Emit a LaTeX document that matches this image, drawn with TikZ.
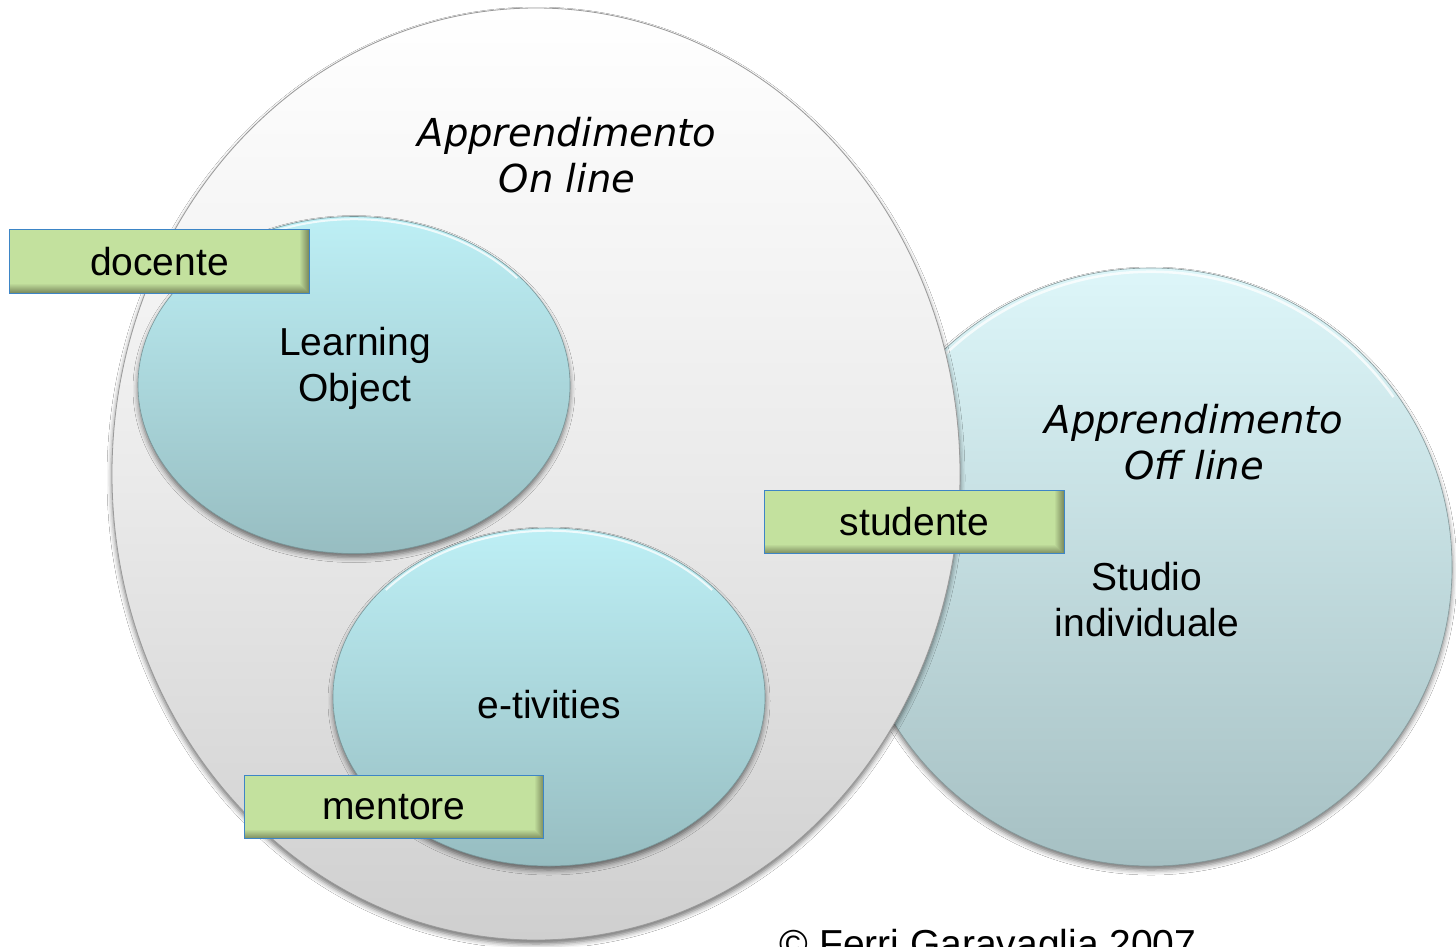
\documentclass[tikz,border=0pt]{standalone}
\usepackage{fontspec}
\setmainfont{Liberation Sans}
\newfontfamily\verd{DejaVu Sans}
\usetikzlibrary{shapes.geometric,shadows.blur}
\definecolor{bigbot}{HTML}{CFCFCF}
\definecolor{bigline}{HTML}{9A9A9A}
\definecolor{tealtop}{HTML}{BDEFF5}
\definecolor{tealbot}{HTML}{97BDC1}
\definecolor{offtop}{HTML}{DDF6F9}
\definecolor{offbot}{HTML}{A6C0C3}
\definecolor{boxgreen}{HTML}{C3E19E}
\definecolor{boxdark}{HTML}{66704A}
\definecolor{boxblue}{HTML}{3D85C6}
\tikzset{
  x=1pt, y=-1pt,
  shad/.style={blur shadow={shadow xshift=0pt, shadow yshift=-4pt, shadow blur radius=5pt, shadow opacity=55}},
  bigcirc/.style={ellipse, inner sep=0pt, top color=white, bottom color=bigbot, middle color=white!92!black, draw=bigline, line width=0.8pt, shad},
  tealell/.style={ellipse, inner sep=0pt, top color=tealtop, bottom color=tealbot, draw=tealbot!80!black, line width=0.6pt, shad},
  offcirc/.style={ellipse, inner sep=0pt, top color=offtop, bottom color=offbot, draw=offbot!80!black, line width=0.6pt, shad},
  rim/.style={white, line width=2pt, opacity=0.75},
  lbl/.style={font=\fontsize{39}{46}\selectfont, align=center, inner sep=0pt, text=black},
  ilbl/.style={font=\verd\itshape\fontsize{38.5}{46}\selectfont, align=center, inner sep=0pt, text=black},
  rolebox/.style={rectangle, inner sep=0pt, minimum width=299pt, minimum height=63pt, fill=boxgreen},
}
\begin{document}
\begin{tikzpicture}
\useasboundingbox (0,0) rectangle (1456,946);
\clip (0,0) rectangle (1456,946);
\fill[white] (0,0) rectangle (1456,946);

% Off line circle
\node[offcirc, minimum width=602pt, minimum height=598pt] (off) at (1151,567) {};
\draw[rim, line width=2.5pt] ([yshift=-4pt]off.north) arc[start angle=270, end angle=215, x radius=296, y radius=294];
\draw[rim, line width=2.5pt] ([yshift=-4pt]off.north) arc[start angle=270, end angle=325, x radius=296, y radius=294];
% On line big ellipse
\node[bigcirc, minimum width=848pt, minimum height=932pt] (on) at (536,474) {};
% inner ellipses
\node[tealell, minimum width=432pt, minimum height=337pt] (lo) at (354,385) {};
\node[tealell, minimum width=432pt, minimum height=338pt] (et) at (549,697) {};

% highlight rims
\draw[rim] ([yshift=-3pt]lo.north) arc[start angle=270, end angle=220, x radius=213, y radius=165];
\draw[rim] ([yshift=-3pt]lo.north) arc[start angle=270, end angle=320, x radius=213, y radius=165];
\draw[rim] ([yshift=-3pt]et.north) arc[start angle=270, end angle=220, x radius=213, y radius=166];
\draw[rim] ([yshift=-3pt]et.north) arc[start angle=270, end angle=320, x radius=213, y radius=166];

% labels
\node[ilbl] (ontxt) at (567,155) {Apprendimento\\On line};
\node[ilbl] (offtxt) at (1194,442) {Apprendimento\\Off line};
\node[lbl] (lotxt) at (355,368) {Learning\\Object};
\node[lbl] (ettxt) at (549,705) {e-tivities};
\node[lbl] (sttxt) at (1147,600) {Studio\\individuale};

% role boxes
\foreach \n/\cx/\cy/\t in {doc/159.5/261.5/docente, stu/914.5/522/studente, men/394/807/mentore}{
  \node[rolebox] (\n) at (\cx,\cy) {};
  \foreach \k [evaluate=\k as \p using {int(28+8*\k)}] in {0,...,8}{
    \fill[boxgreen!\p!boxdark] ([xshift=-\k pt-1pt]\n.north east) rectangle ([xshift=-\k pt]\n.south east);
  }
  \foreach \k [evaluate=\k as \p using {int(28+8*\k)}] in {0,...,8}{
    \fill[boxgreen!\p!boxdark] ([yshift=\k pt]\n.south west) rectangle ([yshift=\k pt+1pt,xshift=-\k pt]\n.south east);
  }
  \draw[boxblue, line width=1.3pt] (\n.north west) rectangle (\n.south east);
  \node[lbl] (\n txt) at (\n.center) {\t};
}

% copyright (cut off at the lower edge, as in the reference)
\node[lbl, anchor=base] (copy) at (988,957) {© Ferri Garavaglia 2007};
\end{tikzpicture}
\end{document}
